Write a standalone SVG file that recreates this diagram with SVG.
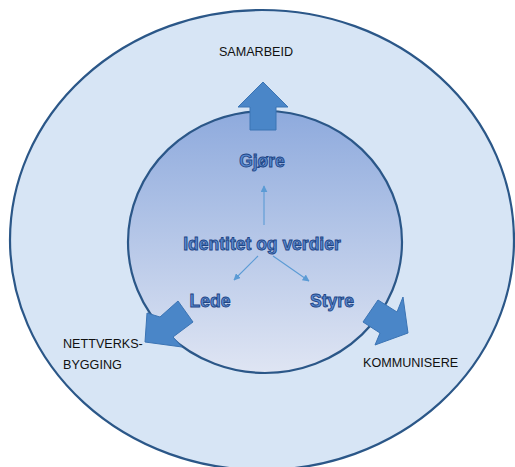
<svg xmlns="http://www.w3.org/2000/svg" width="515" height="467" viewBox="0 0 515 467">
<defs>
<linearGradient id="innerGrad" x1="0" y1="0" x2="0" y2="1">
<stop offset="0" stop-color="#8eaadd"/>
<stop offset="1" stop-color="#dfe5f3"/>
</linearGradient>
<marker id="tip" viewBox="0 0 10 10" refX="9" refY="5" markerWidth="7" markerHeight="7" orient="auto" markerUnits="userSpaceOnUse">
<path d="M0,0 L10,5 L0,10 z" fill="#5b9bd5"/>
</marker>
<style>
.ring{stroke:#2b5788;stroke-width:2.2}
.big{fill:#4a86c8;stroke:#3b74b4;stroke-width:1}
.lbl{font-family:"Liberation Sans",Arial,sans-serif;font-size:12.6px;fill:#111}
.core{font-family:"Liberation Sans",Arial,sans-serif;font-weight:bold;font-size:17.5px;fill:#5a8bd2;stroke:#1f4585;stroke-width:0.9;text-anchor:middle}
.thin{stroke:#5b9bd5;stroke-width:1.1;fill:none}
</style>
</defs>
<rect width="515" height="467" fill="#ffffff"/>
<g id="outer">
<ellipse cx="262" cy="240" rx="252" ry="230" fill="#d7e5f5" class="ring"/>
</g>
<g id="inner">
<ellipse cx="265" cy="242" rx="137" ry="131" fill="url(#innerGrad)" class="ring"/>
</g>
<g id="connectors">
<polygon class="big" points="250,130 276,130 276,107 288,107 263,82 238,107 250,107"/>
<polygon class="big" points="178,301 193,322 173,337 182,347 145,342 147,313 160,317"/>
<polygon class="big" points="378,300 397,312 403,297 408,333 375,345 380,333 363,322"/>
<line class="thin" x1="264" y1="225" x2="264" y2="186" marker-end="url(#tip)"/>
<line class="thin" x1="258" y1="256" x2="234" y2="280" marker-end="url(#tip)"/>
<line class="thin" x1="273" y1="256" x2="309" y2="281" marker-end="url(#tip)"/>
</g>
<g id="samarbeid"><text class="lbl" x="256" y="56" text-anchor="middle">SAMARBEID</text></g>
<g id="nettverksbygging"><text class="lbl" x="63" y="348">NETTVERKS-</text><text class="lbl" x="63" y="369">BYGGING</text></g>
<g id="kommunisere"><text class="lbl" x="363" y="367">KOMMUNISERE</text></g>
<g id="gjore"><text class="core" x="262" y="167">Gjøre</text></g>
<g id="identitet"><text class="core" x="262" y="250">Identitet og verdier</text></g>
<g id="lede"><text class="core" x="210" y="307">Lede</text></g>
<g id="styre"><text class="core" x="332" y="307">Styre</text></g>
</svg>
